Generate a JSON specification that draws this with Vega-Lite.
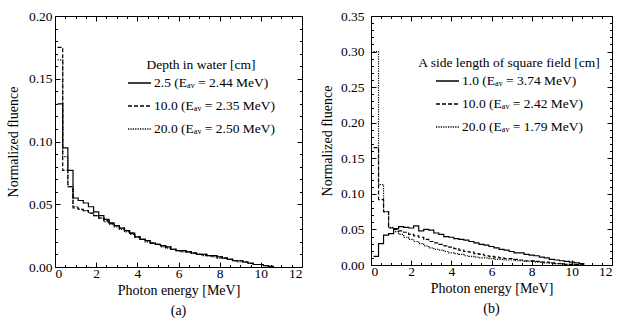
{
 "$schema": "https://vega.github.io/schema/vega-lite/v6.json",
 "padding": {"left": 5, "top": 8, "right": 0, "bottom": 0},
 "background": "white",
 "config": {
  "font": "Liberation Serif",
  "view": {"stroke": "black", "strokeWidth": 1},
  "axis": {"domain": false, "grid": false, "tickColor": "black", "labelColor": "black", "titleColor": "black", "labelFont": "Liberation Serif", "titleFont": "Liberation Serif", "labelFontSize": 13.5, "titleFontSize": 14, "titleFontWeight": "normal"},
  "legend": {"labelFont": "Liberation Serif", "titleFont": "Liberation Serif", "labelFontSize": 13.5, "titleFontSize": 13.5, "titleFontWeight": "normal", "labelColor": "black", "titleColor": "black", "symbolType": "stroke", "symbolSize": 530, "symbolStrokeColor": "black", "symbolStrokeWidth": 1.3, "rowPadding": 4, "titleAnchor": "middle", "titlePadding": -1, "titleLimit": 400, "labelLimit": 300, "labelOffset": 2, "orient": "none"},
  "title": {"font": "Liberation Serif", "fontSize": 14, "fontWeight": "normal", "color": "black"}
 },
 "datasets": {
  "a": [
   {"s":"2.5","e":0.125,"f":0.130},{"s":"2.5","e":0.375,"f":0.095},{"s":"2.5","e":0.625,"f":0.077},{"s":"2.5","e":0.875,"f":0.055},{"s":"2.5","e":1.125,"f":0.053},{"s":"2.5","e":1.375,"f":0.051},{"s":"2.5","e":1.625,"f":0.048},{"s":"2.5","e":1.875,"f":0.044},{"s":"2.5","e":2.125,"f":0.041},{"s":"2.5","e":2.375,"f":0.038},{"s":"2.5","e":2.625,"f":0.035},{"s":"2.5","e":2.875,"f":0.033},{"s":"2.5","e":3.125,"f":0.031},{"s":"2.5","e":3.375,"f":0.029},{"s":"2.5","e":3.625,"f":0.027},{"s":"2.5","e":3.875,"f":0.024},{"s":"2.5","e":4.125,"f":0.022},{"s":"2.5","e":4.375,"f":0.021},{"s":"2.5","e":4.625,"f":0.019},{"s":"2.5","e":4.875,"f":0.018},{"s":"2.5","e":5.125,"f":0.017},{"s":"2.5","e":5.375,"f":0.016},{"s":"2.5","e":5.625,"f":0.014},{"s":"2.5","e":5.875,"f":0.013},{"s":"2.5","e":6.125,"f":0.013},{"s":"2.5","e":6.375,"f":0.012},{"s":"2.5","e":6.625,"f":0.011},{"s":"2.5","e":6.875,"f":0.010},{"s":"2.5","e":7.125,"f":0.010},{"s":"2.5","e":7.375,"f":0.009},{"s":"2.5","e":7.625,"f":0.009},{"s":"2.5","e":7.875,"f":0.008},{"s":"2.5","e":8.125,"f":0.007},{"s":"2.5","e":8.375,"f":0.006},{"s":"2.5","e":8.625,"f":0.005},{"s":"2.5","e":8.875,"f":0.005},{"s":"2.5","e":9.125,"f":0.004},{"s":"2.5","e":9.375,"f":0.003},{"s":"2.5","e":9.625,"f":0.002},{"s":"2.5","e":9.875,"f":0.002},{"s":"2.5","e":10.125,"f":0.001},{"s":"2.5","e":10.375,"f":0.0005},{"s":"2.5","e":10.625,"f":0.0005},
   {"s":"10.0","e":0.125,"f":0.175},{"s":"10.0","e":0.375,"f":0.077},{"s":"10.0","e":0.625,"f":0.064},{"s":"10.0","e":0.875,"f":0.047},{"s":"10.0","e":1.125,"f":0.046},{"s":"10.0","e":1.375,"f":0.045},{"s":"10.0","e":1.625,"f":0.043},{"s":"10.0","e":1.875,"f":0.041},{"s":"10.0","e":2.125,"f":0.039},{"s":"10.0","e":2.375,"f":0.037},{"s":"10.0","e":2.625,"f":0.035},{"s":"10.0","e":2.875,"f":0.033},{"s":"10.0","e":3.125,"f":0.031},{"s":"10.0","e":3.375,"f":0.029},{"s":"10.0","e":3.625,"f":0.027},{"s":"10.0","e":3.875,"f":0.024},{"s":"10.0","e":4.125,"f":0.022},{"s":"10.0","e":4.375,"f":0.021},{"s":"10.0","e":4.625,"f":0.019},{"s":"10.0","e":4.875,"f":0.018},{"s":"10.0","e":5.125,"f":0.017},{"s":"10.0","e":5.375,"f":0.016},{"s":"10.0","e":5.625,"f":0.014},{"s":"10.0","e":5.875,"f":0.013},{"s":"10.0","e":6.125,"f":0.013},{"s":"10.0","e":6.375,"f":0.012},{"s":"10.0","e":6.625,"f":0.011},{"s":"10.0","e":6.875,"f":0.010},{"s":"10.0","e":7.125,"f":0.010},{"s":"10.0","e":7.375,"f":0.009},{"s":"10.0","e":7.625,"f":0.009},{"s":"10.0","e":7.875,"f":0.008},{"s":"10.0","e":8.125,"f":0.007},{"s":"10.0","e":8.375,"f":0.006},{"s":"10.0","e":8.625,"f":0.005},{"s":"10.0","e":8.875,"f":0.005},{"s":"10.0","e":9.125,"f":0.004},{"s":"10.0","e":9.375,"f":0.003},{"s":"10.0","e":9.625,"f":0.002},{"s":"10.0","e":9.875,"f":0.002},{"s":"10.0","e":10.125,"f":0.001},{"s":"10.0","e":10.375,"f":0.0005},{"s":"10.0","e":10.625,"f":0.0005},
   {"s":"20.0","e":0.125,"f":0.165},{"s":"20.0","e":0.375,"f":0.088},{"s":"20.0","e":0.625,"f":0.064},{"s":"20.0","e":0.875,"f":0.048},{"s":"20.0","e":1.125,"f":0.046},{"s":"20.0","e":1.375,"f":0.045},{"s":"20.0","e":1.625,"f":0.043},{"s":"20.0","e":1.875,"f":0.041},{"s":"20.0","e":2.125,"f":0.039},{"s":"20.0","e":2.375,"f":0.036},{"s":"20.0","e":2.625,"f":0.034},{"s":"20.0","e":2.875,"f":0.032},{"s":"20.0","e":3.125,"f":0.030},{"s":"20.0","e":3.375,"f":0.028},{"s":"20.0","e":3.625,"f":0.026},{"s":"20.0","e":3.875,"f":0.024},{"s":"20.0","e":4.125,"f":0.022},{"s":"20.0","e":4.375,"f":0.020},{"s":"20.0","e":4.625,"f":0.019},{"s":"20.0","e":4.875,"f":0.018},{"s":"20.0","e":5.125,"f":0.016},{"s":"20.0","e":5.375,"f":0.015},{"s":"20.0","e":5.625,"f":0.014},{"s":"20.0","e":5.875,"f":0.013},{"s":"20.0","e":6.125,"f":0.012},{"s":"20.0","e":6.375,"f":0.012},{"s":"20.0","e":6.625,"f":0.011},{"s":"20.0","e":6.875,"f":0.010},{"s":"20.0","e":7.125,"f":0.009},{"s":"20.0","e":7.375,"f":0.009},{"s":"20.0","e":7.625,"f":0.008},{"s":"20.0","e":7.875,"f":0.007},{"s":"20.0","e":8.125,"f":0.007},{"s":"20.0","e":8.375,"f":0.006},{"s":"20.0","e":8.625,"f":0.005},{"s":"20.0","e":8.875,"f":0.004},{"s":"20.0","e":9.125,"f":0.004},{"s":"20.0","e":9.375,"f":0.003},{"s":"20.0","e":9.625,"f":0.002},{"s":"20.0","e":9.875,"f":0.002},{"s":"20.0","e":10.125,"f":0.001},{"s":"20.0","e":10.375,"f":0.0004},{"s":"20.0","e":10.625,"f":0.0004}
  ],
  "b": [
   {"s":"1.0","e":0.125,"f":0.012},{"s":"1.0","e":0.375,"f":0.030},{"s":"1.0","e":0.625,"f":0.042},{"s":"1.0","e":0.875,"f":0.044},{"s":"1.0","e":1.125,"f":0.051},{"s":"1.0","e":1.375,"f":0.054},{"s":"1.0","e":1.625,"f":0.053},{"s":"1.0","e":1.875,"f":0.052},{"s":"1.0","e":2.125,"f":0.055},{"s":"1.0","e":2.375,"f":0.048},{"s":"1.0","e":2.625,"f":0.050},{"s":"1.0","e":2.875,"f":0.049},{"s":"1.0","e":3.125,"f":0.045},{"s":"1.0","e":3.375,"f":0.043},{"s":"1.0","e":3.625,"f":0.040},{"s":"1.0","e":3.875,"f":0.039},{"s":"1.0","e":4.125,"f":0.037},{"s":"1.0","e":4.375,"f":0.036},{"s":"1.0","e":4.625,"f":0.035},{"s":"1.0","e":4.875,"f":0.033},{"s":"1.0","e":5.125,"f":0.031},{"s":"1.0","e":5.375,"f":0.029},{"s":"1.0","e":5.625,"f":0.028},{"s":"1.0","e":5.875,"f":0.026},{"s":"1.0","e":6.125,"f":0.024},{"s":"1.0","e":6.375,"f":0.022},{"s":"1.0","e":6.625,"f":0.021},{"s":"1.0","e":6.875,"f":0.019},{"s":"1.0","e":7.125,"f":0.017},{"s":"1.0","e":7.375,"f":0.017},{"s":"1.0","e":7.625,"f":0.015},{"s":"1.0","e":7.875,"f":0.014},{"s":"1.0","e":8.125,"f":0.013},{"s":"1.0","e":8.375,"f":0.011},{"s":"1.0","e":8.625,"f":0.010},{"s":"1.0","e":8.875,"f":0.008},{"s":"1.0","e":9.125,"f":0.007},{"s":"1.0","e":9.375,"f":0.006},{"s":"1.0","e":9.625,"f":0.005},{"s":"1.0","e":9.875,"f":0.004},{"s":"1.0","e":10.125,"f":0.003},{"s":"1.0","e":10.375,"f":0.002},{"s":"1.0","e":10.625,"f":0.002},
   {"s":"10.0","e":0.125,"f":0.165},{"s":"10.0","e":0.375,"f":0.092},{"s":"10.0","e":0.625,"f":0.075},{"s":"10.0","e":0.875,"f":0.052},{"s":"10.0","e":1.125,"f":0.050},{"s":"10.0","e":1.375,"f":0.048},{"s":"10.0","e":1.625,"f":0.046},{"s":"10.0","e":1.875,"f":0.043},{"s":"10.0","e":2.125,"f":0.041},{"s":"10.0","e":2.375,"f":0.039},{"s":"10.0","e":2.625,"f":0.036},{"s":"10.0","e":2.875,"f":0.033},{"s":"10.0","e":3.125,"f":0.031},{"s":"10.0","e":3.375,"f":0.029},{"s":"10.0","e":3.625,"f":0.027},{"s":"10.0","e":3.875,"f":0.025},{"s":"10.0","e":4.125,"f":0.023},{"s":"10.0","e":4.375,"f":0.021},{"s":"10.0","e":4.625,"f":0.019},{"s":"10.0","e":4.875,"f":0.018},{"s":"10.0","e":5.125,"f":0.016},{"s":"10.0","e":5.375,"f":0.015},{"s":"10.0","e":5.625,"f":0.013},{"s":"10.0","e":5.875,"f":0.012},{"s":"10.0","e":6.125,"f":0.011},{"s":"10.0","e":6.375,"f":0.010},{"s":"10.0","e":6.625,"f":0.009},{"s":"10.0","e":6.875,"f":0.009},{"s":"10.0","e":7.125,"f":0.008},{"s":"10.0","e":7.375,"f":0.007},{"s":"10.0","e":7.625,"f":0.006},{"s":"10.0","e":7.875,"f":0.006},{"s":"10.0","e":8.125,"f":0.005},{"s":"10.0","e":8.375,"f":0.004},{"s":"10.0","e":8.625,"f":0.004},{"s":"10.0","e":8.875,"f":0.003},{"s":"10.0","e":9.125,"f":0.002},{"s":"10.0","e":9.375,"f":0.002},{"s":"10.0","e":9.625,"f":0.001},{"s":"10.0","e":9.875,"f":0.001},{"s":"10.0","e":10.125,"f":0.0007},{"s":"10.0","e":10.375,"f":0.0003},{"s":"10.0","e":10.625,"f":0.0003},
   {"s":"20.0","e":0.125,"f":0.300},{"s":"20.0","e":0.375,"f":0.113},{"s":"20.0","e":0.625,"f":0.075},{"s":"20.0","e":0.875,"f":0.053},{"s":"20.0","e":1.125,"f":0.047},{"s":"20.0","e":1.375,"f":0.043},{"s":"20.0","e":1.625,"f":0.039},{"s":"20.0","e":1.875,"f":0.036},{"s":"20.0","e":2.125,"f":0.033},{"s":"20.0","e":2.375,"f":0.030},{"s":"20.0","e":2.625,"f":0.027},{"s":"20.0","e":2.875,"f":0.024},{"s":"20.0","e":3.125,"f":0.022},{"s":"20.0","e":3.375,"f":0.021},{"s":"20.0","e":3.625,"f":0.019},{"s":"20.0","e":3.875,"f":0.017},{"s":"20.0","e":4.125,"f":0.016},{"s":"20.0","e":4.375,"f":0.015},{"s":"20.0","e":4.625,"f":0.013},{"s":"20.0","e":4.875,"f":0.012},{"s":"20.0","e":5.125,"f":0.011},{"s":"20.0","e":5.375,"f":0.010},{"s":"20.0","e":5.625,"f":0.010},{"s":"20.0","e":5.875,"f":0.009},{"s":"20.0","e":6.125,"f":0.008},{"s":"20.0","e":6.375,"f":0.008},{"s":"20.0","e":6.625,"f":0.007},{"s":"20.0","e":6.875,"f":0.007},{"s":"20.0","e":7.125,"f":0.006},{"s":"20.0","e":7.375,"f":0.006},{"s":"20.0","e":7.625,"f":0.005},{"s":"20.0","e":7.875,"f":0.005},{"s":"20.0","e":8.125,"f":0.004},{"s":"20.0","e":8.375,"f":0.004},{"s":"20.0","e":8.625,"f":0.003},{"s":"20.0","e":8.875,"f":0.003},{"s":"20.0","e":9.125,"f":0.002},{"s":"20.0","e":9.375,"f":0.002},{"s":"20.0","e":9.625,"f":0.001},{"s":"20.0","e":9.875,"f":0.001},{"s":"20.0","e":10.125,"f":0.0005},{"s":"20.0","e":10.375,"f":0.0002},{"s":"20.0","e":10.625,"f":0.0002}
  ]
 },
 "spacing": 16,
 "hconcat": [
  {
   "width": 247, "height": 251,
   "data": {"name": "a"},
   "title": {"text": "(a)", "orient": "bottom", "offset": 6},
   "layer": [
    {
     "mark": {"type": "line", "interpolate": "step-after", "color": "black", "strokeWidth": 1.2},
     "encoding": {
      "x": {"field": "e", "type": "quantitative", "scale": {"domain": [0, 12], "nice": false},
        "axis": {"orient": "bottom", "title": "Photon energy [MeV]", "values": [0,0.5,1,1.5,2,2.5,3,3.5,4,4.5,5,5.5,6,6.5,7,7.5,8,8.5,9,9.5,10,10.5,11,11.5,12],
          "labelExpr": "datum.value % 2 == 0 ? format(datum.value, 'd') : ''",
          "tickSize": {"condition": {"test": "datum.value % 2 == 0", "value": -5}, "value": -2.5}, "labelPadding": 4, "titlePadding": 4}},
      "y": {"field": "f", "type": "quantitative", "scale": {"domain": [0, 0.2], "nice": false},
        "axis": {"orient": "left", "title": "Normalized fluence", "values": [0,0.01,0.02,0.03,0.04,0.05,0.06,0.07,0.08,0.09,0.1,0.11,0.12,0.13,0.14,0.15,0.16,0.17,0.18,0.19,0.2],
          "labelExpr": "abs(round(datum.value*100)) % 5 == 0 ? format(datum.value, '.2f') : ''",
          "tickSize": {"condition": {"test": "abs(round(datum.value*100)) % 5 == 0", "value": -5}, "value": -2.5}, "labelPadding": 8, "titlePadding": 8}},
      "strokeDash": {"field": "s", "type": "nominal",
        "scale": {"domain": ["2.5", "10.0", "20.0"], "range": [[1, 0], [4, 2], [1.2, 1.2]]},
        "legend": {"title": "Depth in water [cm]", "legendX": 72, "legendY": 42,
          "labelExpr": "datum.label == '2.5' ? '2.5 (Eₐᵥ = 2.44 MeV)' : datum.label == '10.0' ? '10.0 (Eₐᵥ = 2.35 MeV)' : '20.0 (Eₐᵥ = 2.50 MeV)'"}}
     }
    },
    {
     "mark": {"type": "point", "opacity": 0},
     "encoding": {
      "x": {"field": "e", "type": "quantitative",
        "axis": {"orient": "top", "title": null, "labels": false, "values": [0,0.5,1,1.5,2,2.5,3,3.5,4,4.5,5,5.5,6,6.5,7,7.5,8,8.5,9,9.5,10,10.5,11,11.5,12],
          "tickSize": {"condition": {"test": "datum.value % 2 == 0", "value": -5}, "value": -2.5}}},
      "y": {"field": "f", "type": "quantitative",
        "axis": {"orient": "right", "title": null, "labels": false, "values": [0,0.01,0.02,0.03,0.04,0.05,0.06,0.07,0.08,0.09,0.1,0.11,0.12,0.13,0.14,0.15,0.16,0.17,0.18,0.19,0.2],
          "tickSize": {"condition": {"test": "abs(round(datum.value*100)) % 5 == 0", "value": -5}, "value": -2.5}}}
     }
    }
   ],
   "resolve": {"axis": {"x": "independent", "y": "independent"}}
  },
  {
   "width": 241, "height": 249,
   "data": {"name": "b"},
   "title": {"text": "(b)", "orient": "bottom", "offset": 6},
   "layer": [
    {
     "mark": {"type": "line", "interpolate": "step-after", "color": "black", "strokeWidth": 1.2},
     "encoding": {
      "x": {"field": "e", "type": "quantitative", "scale": {"domain": [0, 12], "nice": false},
        "axis": {"orient": "bottom", "title": "Photon energy [MeV]", "values": [0,0.5,1,1.5,2,2.5,3,3.5,4,4.5,5,5.5,6,6.5,7,7.5,8,8.5,9,9.5,10,10.5,11,11.5,12],
          "labelExpr": "datum.value % 2 == 0 ? format(datum.value, 'd') : ''",
          "tickSize": {"condition": {"test": "datum.value % 2 == 0", "value": -5}, "value": -2.5}, "labelPadding": 4, "titlePadding": 4}},
      "y": {"field": "f", "type": "quantitative", "scale": {"domain": [0, 0.35], "nice": false},
        "axis": {"orient": "left", "title": "Normalized fluence", "values": [0,0.01,0.02,0.03,0.04,0.05,0.06,0.07,0.08,0.09,0.1,0.11,0.12,0.13,0.14,0.15,0.16,0.17,0.18,0.19,0.2,0.21,0.22,0.23,0.24,0.25,0.26,0.27,0.28,0.29,0.3,0.31,0.32,0.33,0.34,0.35],
          "labelExpr": "abs(round(datum.value*100)) % 5 == 0 ? format(datum.value, '.2f') : ''",
          "tickSize": {"condition": {"test": "abs(round(datum.value*100)) % 5 == 0", "value": -5}, "value": -2.5}, "labelPadding": 12, "titlePadding": 6}},
      "strokeDash": {"field": "s", "type": "nominal",
        "scale": {"domain": ["1.0", "10.0", "20.0"], "range": [[1, 0], [4, 2], [1.2, 1.2]]},
        "legend": {"title": "A side length of square field [cm]", "legendX": 47, "legendY": 40,
          "labelExpr": "datum.label == '1.0' ? '1.0 (Eₐᵥ = 3.74 MeV)' : datum.label == '10.0' ? '10.0 (Eₐᵥ = 2.42 MeV)' : '20.0 (Eₐᵥ = 1.79 MeV)'"}}
     }
    },
    {
     "mark": {"type": "point", "opacity": 0},
     "encoding": {
      "x": {"field": "e", "type": "quantitative",
        "axis": {"orient": "top", "title": null, "labels": false, "values": [0,0.5,1,1.5,2,2.5,3,3.5,4,4.5,5,5.5,6,6.5,7,7.5,8,8.5,9,9.5,10,10.5,11,11.5,12],
          "tickSize": {"condition": {"test": "datum.value % 2 == 0", "value": -5}, "value": -2.5}}},
      "y": {"field": "f", "type": "quantitative",
        "axis": {"orient": "right", "title": null, "labels": false, "values": [0,0.01,0.02,0.03,0.04,0.05,0.06,0.07,0.08,0.09,0.1,0.11,0.12,0.13,0.14,0.15,0.16,0.17,0.18,0.19,0.2,0.21,0.22,0.23,0.24,0.25,0.26,0.27,0.28,0.29,0.3,0.31,0.32,0.33,0.34,0.35],
          "tickSize": {"condition": {"test": "abs(round(datum.value*100)) % 5 == 0", "value": -5}, "value": -2.5}}}
     }
    }
   ],
   "resolve": {"axis": {"x": "independent", "y": "independent"}}
  }
 ],
 "resolve": {"scale": {"strokeDash": "independent", "x": "independent", "y": "independent"}, "legend": {"strokeDash": "independent"}}
}
